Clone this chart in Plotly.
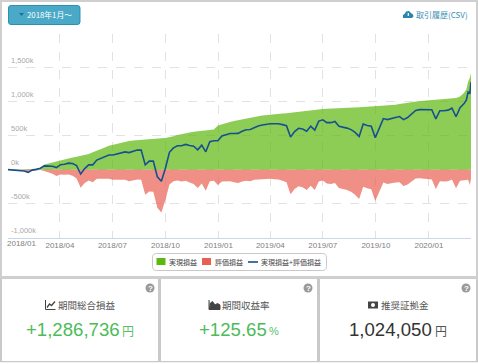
import pandas as pd
import plotly.graph_objects as go

W, H = 478, 364
X = lambda x: x / W
Y = lambda y: 1 - y / H

# values in thousands of yen
extra_dates = ["2020-03-06", "2020-03-09", "2020-03-12", "2020-03-14"]
dates = list(pd.date_range("2018-01-01", "2020-03-02", freq="7D").strftime("%Y-%m-%d")) + extra_dates

realized = [0, 0, 2, 3, 5, 5, 8, 12, 25, 75, 90, 110, 125, 143, 155, 165, 180, 190, 200, 210,
            230, 255, 275, 300, 325, 350, 365, 380, 395, 410, 420, 428, 434, 437, 440, 445, 450, 455, 460, 465,
            475, 490, 510, 525, 535, 545, 555, 560, 565, 572, 580, 590, 650, 670, 685, 700, 715, 728, 738, 750,
            760, 770, 785, 795, 803, 808, 815, 820, 826, 830, 838, 845, 852, 858, 865, 872, 880, 888, 892, 896,
            900, 903, 906, 908, 910, 913, 916, 918, 921, 924, 927, 930, 935, 940, 945, 950, 955, 965, 975, 985,
            993, 1000, 1007, 1012, 1018, 1024, 1030, 1035, 1040, 1044, 1048, 1052, 1075, 1130,
            1180, 1290, 1350, 1420]

unrealized = [0, -3, -5, -10, -25, -45, -15, -8, -5, -20, -35, -60, -95, -70, -75, -70, -90, -130, -265, -195,
              -160, -185, -135, -135, -140, -135, -150, -150, -155, -150, -170, -155, -145, -150, -370, -320, -325, -560, -630, -445,
              -220, -170, -160, -175, -165, -190, -210, -270, -205, -310, -170, -165, -225, -175, -175, -170, -185, -195, -175, -165,
              -170, -150, -145, -140, -135, -135, -140, -145, -165, -185, -360, -285, -245, -260, -300, -235, -300, -175, -160, -205,
              -210, -195, -270, -280, -300, -325, -370, -430, -250, -275, -290, -460, -330, -190, -210, -195, -190, -185, -240, -220,
              -180, -130, -125, -130, -135, -145, -285, -170, -175, -170, -145, -275, -165, -160,
              -155, -150, -225, -133]

total = [r + u for r, u in zip(realized, unrealized)]

x_ticks = ["2018-01-01", "2018-04-01", "2018-07-01", "2018-10-01", "2019-01-01",
           "2019-04-01", "2019-07-01", "2019-10-01", "2020-01-01"]
x_labels = ["", "2018/04", "2018/07", "2018/10", "2019/01", "2019/04", "2019/07", "2019/10", "2020/01"]
y_ticks = [-1000, -500, 0, 500, 1000, 1500, 2000]
y_labels = ["-1,000k", "-500k", "0k", "500k", "1,000k", "1,500k", ""]

legend_names = ["実現損益", "評価損益", "実現損益+評価損益"]

GREEN, RED, NAVY = "rgba(92,184,14,0.7)", "rgba(233,95,81,0.7)", "#17508f"
JP = "Noto Sans CJK JP, Noto Sans, sans-serif"
LAT = "Liberation Sans, Arial, sans-serif"

fig = go.Figure()
fig.add_trace(go.Scatter(x=dates, y=realized, name=legend_names[0], mode="lines",
                         line=dict(width=0, color=GREEN), fill="tozeroy", fillcolor=GREEN))
fig.add_trace(go.Scatter(x=dates, y=unrealized, name=legend_names[1], mode="lines",
                         line=dict(width=0, color=RED), fill="tozeroy", fillcolor=RED))
fig.add_trace(go.Scatter(x=dates, y=total, name=legend_names[2], mode="lines",
                         line=dict(width=1.6, color=NAVY)))

shapes, notes = [], []


def rect(x0, y0, x1, y1, fill, line=None, lw=0, layer="below"):
    shapes.append(dict(type="rect", xref="paper", yref="paper", x0=X(x0), x1=X(x1), y0=Y(y1), y1=Y(y0),
                       fillcolor=fill, line=dict(color=line or fill, width=lw), layer=layer))


def rrect_path(x0, y0, x1, y1, r):
    p = lambda x, y: f"{X(x):.5f} {Y(y):.5f}"
    return (f"M {p(x0 + r, y0)} L {p(x1 - r, y0)} Q {p(x1, y0)} {p(x1, y0 + r)} "
            f"L {p(x1, y1 - r)} Q {p(x1, y1)} {p(x1 - r, y1)} L {p(x0 + r, y1)} "
            f"Q {p(x0, y1)} {p(x0, y1 - r)} L {p(x0, y0 + r)} Q {p(x0, y0)} {p(x0 + r, y0)} Z")


def path(points, fill=None, line=None, lw=1, close=False):
    d = "M " + " L ".join(f"{X(a):.5f} {Y(b):.5f}" for a, b in points) + (" Z" if close else "")
    shapes.append(dict(type="path", xref="paper", yref="paper", path=d,
                       fillcolor=fill or "rgba(0,0,0,0)", line=dict(color=line or "rgba(0,0,0,0)", width=lw)))


def text(x, y, s, size, color, anchor="center", family=JP):
    notes.append(dict(xref="paper", yref="paper", x=X(x), y=Y(y), text=s, showarrow=False,
                      xanchor=anchor, yanchor="middle", font=dict(size=size, color=color, family=family),
                      borderpad=0, borderwidth=0))


# card frames
rect(0, 0, 478, 279, "#cfcfcf")
rect(2, 2, 476, 276, "#ffffff")
rect(0, 279, 478, 362.5, "#c9c9c9")
rect(2, 279, 158, 361, "#ffffff")
rect(161, 279, 317, 361, "#ffffff")
rect(320, 279, 476, 361, "#ffffff")
rect(0, 362.5, 478, 364, "#ffffff")

# period button
shapes.append(dict(type="path", xref="paper", yref="paper", path=rrect_path(8.5, 5.5, 80, 24.5, 2.5),
                   fillcolor="#4ba9c8", line=dict(color="#2f8fb0", width=1), layer="below"))
path([(19, 13), (24, 13), (21.5, 16)], fill="#1f6f92", close=True)
text(27, 15, "2018年1月～", 7.8, "#ffffff", "left")

# CSV link
cloud = [(403, 18), (403, 15), (405, 13.5), (406, 11.5), (409, 11), (411, 13), (413, 14.5), (413.5, 16.5), (412, 18)]
path(cloud, fill="#2b86ad", close=True)
path([(408.3, 13), (408.3, 16)], line="#ffffff", lw=1.2)
text(468, 15, "取引履歴(CSV)", 8, "#3d8fb3", "right")

# first x tick label, pulled inside the chart as in the original
text(21.5, 244, "2018/01", 8, "#808080", family=LAT)

# legend box
shapes.append(dict(type="path", xref="paper", yref="paper", path=rrect_path(152.5, 253.5, 326.5, 270.5, 4),
                   fillcolor="#ffffff", line=dict(color="#c8c8c8", width=1), layer="below"))
rect(156.5, 258, 165.5, 265, "#5cb80e")
text(168.5, 262, legend_names[0], 7, "#444444", "left")
rect(202, 258, 211, 265, "#e8604f")
text(214.5, 262, legend_names[1], 7, "#444444", "left")
path([(248, 262), (258, 262)], line=NAVY, lw=1.6)
text(260.5, 262, legend_names[2], 7, "#444444", "left")

# help badges
for cx in (150, 308, 466):
    shapes.append(dict(type="circle", xref="paper", yref="paper", x0=X(cx - 4.5), x1=X(cx + 4.5),
                       y0=Y(288 + 4.5), y1=Y(288 - 4.5), fillcolor="#9a9a9a", line=dict(width=0), layer="below"))
    text(cx, 288, "<b>?</b>", 8, "#ffffff", family=LAT)

# card titles and icons
text(58, 305, "期間総合損益", 9.5, "#555555", "left")
path([(45.5, 300), (45.5, 309.5), (55.5, 309.5)], line="#444444", lw=1)
path([(47, 307.5), (49.5, 304), (51.5, 305.5), (55, 301.5)], line="#444444", lw=1.3)

text(222, 305, "期間収益率", 9.5, "#555555", "left")
path([(209, 300), (209, 309.5), (220, 309.5), (220, 305), (217.5, 303.5), (215, 305), (212.5, 301.5), (210.5, 303), (210, 309)],
     fill="#444444", line="#444444", lw=1)

text(381, 305, "推奨証拠金", 9.5, "#555555", "left")
rect(368, 301.5, 378, 308.5, "#444444", layer="above")
shapes.append(dict(type="circle", xref="paper", yref="paper", x0=X(371), x1=X(375), y0=Y(307), y1=Y(303),
                   fillcolor="#ffffff", line=dict(width=0)))

# headline numbers
text(119.5, 329, "+1,286,736", 18.6, "#4cbb5a", "right", LAT)
text(122, 330.5, "円", 12, "#5cc06a", "left")
text(266.5, 329, "+125.65", 18.6, "#4cbb5a", "right", LAT)
text(269, 330.5, "%", 11, "#5cc06a", "left", LAT)
text(431.5, 329, "1,024,050", 18.6, "#333333", "right", LAT)
text(434.5, 330.5, "円", 12, "#555555", "left")

fig.update_layout(
    width=W, height=H, margin=dict(l=0, r=0, t=0, b=0, pad=0), autosize=False,
    paper_bgcolor="#ffffff", plot_bgcolor="rgba(0,0,0,0)", showlegend=False,
    shapes=shapes, annotations=notes,
    font=dict(family=LAT),
    xaxis=dict(domain=[X(8), X(471)], type="date", range=["2018-01-01", "2020-03-14"],
               tickmode="array", tickvals=x_ticks, ticktext=x_labels, ticks="",
               tickfont=dict(size=8, color="#808080", family=LAT),
               showgrid=True, gridcolor="#e2e2e2", griddash="dash", gridwidth=1,
               showline=True, linecolor="#ccd6eb", linewidth=1, zeroline=False),
    yaxis=dict(domain=[Y(237.7), Y(33.5)], range=[-1000, 2000],
               tickmode="array", tickvals=y_ticks, ticktext=y_labels, ticks="",
               ticklabelposition="inside top", ticklabelshift=-2,
               tickfont=dict(size=7.5, color="#aaaaaa", family=LAT),
               showgrid=True, gridcolor="#e2e2e2", griddash="dash", gridwidth=1,
               showline=False, zeroline=False),
)

fig.write_html("out.html", config=dict(displayModeBar=False),
               post_script="document.body.style.margin='0';document.body.style.overflow='hidden';")
